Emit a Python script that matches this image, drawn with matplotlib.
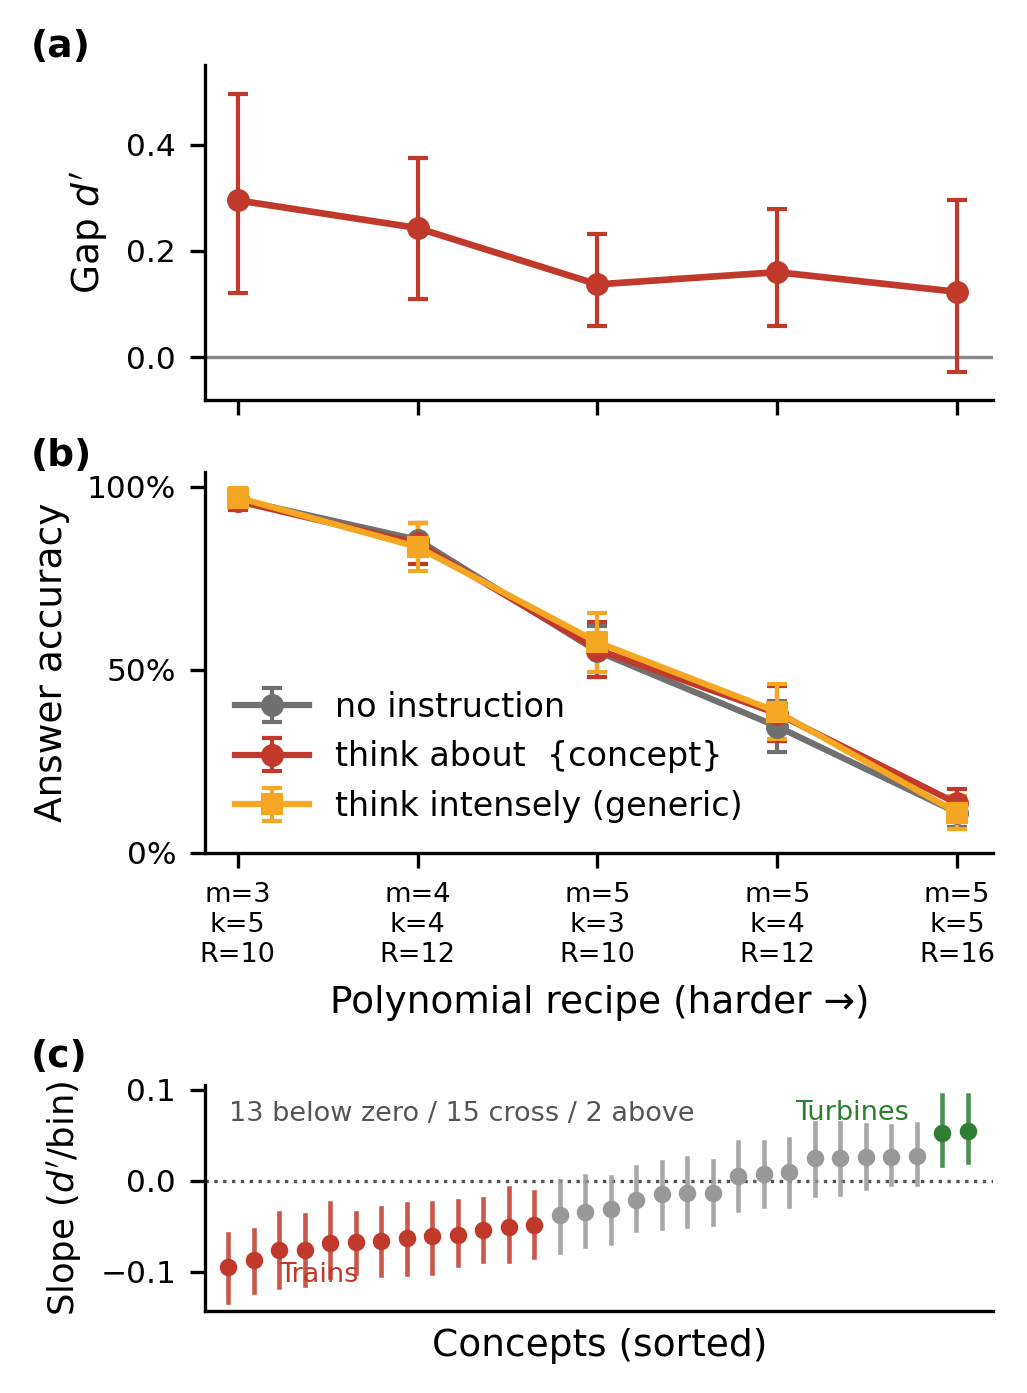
import numpy as np
import matplotlib
matplotlib.use("Agg")
import matplotlib.pyplot as plt
from matplotlib.ticker import PercentFormatter

recipes = ["m=3\nk=5\nR=10", "m=4\nk=4\nR=12", "m=5\nk=3\nR=10", "m=5\nk=4\nR=12", "m=5\nk=5\nR=16"]

gap_d = [0.295, 0.243, 0.137, 0.160, 0.123]
gap_lo = [0.120, 0.110, 0.058, 0.058, -0.028]
gap_hi = [0.495, 0.375, 0.232, 0.278, 0.295]

acc_none = [96.5, 85.5, 55.0, 34.5, 11.0]
acc_none_err = [2.5, 4.5, 7.0, 7.0, 4.0]
acc_concept = [96.0, 84.5, 55.5, 38.0, 13.5]
acc_concept_err = [2.5, 5.5, 7.5, 7.5, 4.0]
acc_generic = [97.0, 83.5, 57.5, 38.5, 11.0]
acc_generic_err = [2.5, 6.5, 8.0, 7.5, 4.5]

slopes = [-0.095, -0.087, -0.076, -0.076, -0.068, -0.067, -0.066, -0.063, -0.061, -0.059,
          -0.054, -0.051, -0.048, -0.038, -0.034, -0.031, -0.021, -0.015, -0.013, -0.013,
          0.005, 0.008, 0.010, 0.025, 0.025, 0.026, 0.026, 0.027, 0.053, 0.055]
slope_lo = [-0.133, -0.122, -0.117, -0.115, -0.106, -0.101, -0.103, -0.102, -0.101, -0.093,
            -0.088, -0.088, -0.084, -0.078, -0.072, -0.068, -0.054, -0.052, -0.050, -0.047,
            -0.032, -0.028, -0.028, -0.016, -0.014, -0.008, -0.004, -0.004, 0.017, 0.021]
slope_hi = [-0.058, -0.054, -0.035, -0.038, -0.024, -0.035, -0.030, -0.025, -0.024, -0.022,
            -0.020, -0.008, -0.012, 0.000, 0.005, 0.004, 0.015, 0.021, 0.025, 0.022,
            0.043, 0.043, 0.046, 0.064, 0.064, 0.061, 0.060, 0.062, 0.094, 0.094]

RED = "#c0392b"
GREY = "#707070"
ORANGE = "#f5a623"
GREEN = "#2e7d32"

plt.rcParams["font.family"] = ["DejaVu Sans"]
plt.rcParams["font.size"] = 7.5
plt.rcParams["xtick.labelsize"] = 7.5
plt.rcParams["ytick.labelsize"] = 7.5

fig = plt.figure(figsize=(1027 / 300, 1393 / 300), dpi=300)
ax_a = fig.add_axes([0.2, 0.713, 0.767, 0.2405])
ax_b = fig.add_axes([0.2, 0.3877, 0.767, 0.2735])
ax_c = fig.add_axes([0.2, 0.0589, 0.767, 0.162])

x = np.arange(len(recipes))

# (a) gap
err = [np.array(gap_d) - np.array(gap_lo), np.array(gap_hi) - np.array(gap_d)]
ax_a.axhline(0, color="#888888", lw=0.8)
ax_a.errorbar(x, gap_d, yerr=err, color=RED, marker="o", ms=4.5, lw=1.6,
              elinewidth=1.0, capsize=2.5)
ax_a.set_ylabel("Gap $d'$", fontsize=9)
ax_a.set_xticks(x)
ax_a.set_xticklabels([])
ax_a.set_ylim(-0.08, 0.55)
ax_a.set_yticks([0.0, 0.2, 0.4])
ax_a.set_xlim(-0.18, 4.2)

# (b) accuracy
kw = dict(ms=4.5, lw=1.5, elinewidth=1.0, capsize=2.5)
ax_b.errorbar(x, acc_none, yerr=acc_none_err, color=GREY, marker="o", label="no instruction", **kw)
ax_b.errorbar(x, acc_concept, yerr=acc_concept_err, color=RED, marker="o",
              label="think about  {concept}", **kw)
ax_b.errorbar(x, acc_generic, yerr=acc_generic_err, color=ORANGE, marker="s",
              label="think intensely (generic)", **kw)
ax_b.set_ylim(0, 104)
ax_b.set_yticks([0, 50, 100])
ax_b.yaxis.set_major_formatter(PercentFormatter(decimals=0))
ax_b.set_xlim(-0.18, 4.2)
ax_b.set_xticks(x)
ax_b.set_xticklabels(recipes, fontsize=6.5)
ax_b.set_ylabel("Answer accuracy", fontsize=9)
ax_b.set_xlabel("Polynomial recipe (harder \u2192)", fontsize=9)
ax_b.legend(loc="lower left", frameon=False, fontsize=8, handlelength=2.2)

# (c) slopes
ax_c.axhline(0, color="#555555", lw=0.8, ls=":")
for i, (s, lo, hi) in enumerate(zip(slopes, slope_lo, slope_hi)):
    if hi < 0:
        c = RED
    elif lo > 0:
        c = GREEN
    else:
        c = "#999999"
    ax_c.plot([i, i], [lo, hi], color=c, lw=1.1, alpha=0.85)
    ax_c.plot(i, s, "o", color=c, ms=3.2)
ax_c.set_xlim(-0.9, 30.0)
ax_c.set_ylim(-0.143, 0.105)
ax_c.set_yticks([-0.1, 0.0, 0.1])
ax_c.set_xticks([])
ax_c.set_ylabel("Slope ($d'$/bin)", fontsize=8.5)
ax_c.set_xlabel("Concepts (sorted)", fontsize=9)
ax_c.text(0.03, 0.93, "13 below zero / 15 cross / 2 above", transform=ax_c.transAxes,
          fontsize=6.5, color="#555555", va="top")
ax_c.text(2.0, -0.104, "Trains", color=RED, fontsize=6.5, va="center")
ax_c.text(26.7, 0.075, "Turbines", color=GREEN, fontsize=6.5, va="center", ha="right")

for ax in (ax_a, ax_b, ax_c):
    ax.spines["top"].set_visible(False)
    ax.spines["right"].set_visible(False)

fig.text(0.03, 0.966, "(a)", fontsize=9, fontweight="bold", va="center")
fig.text(0.03, 0.673, "(b)", fontsize=9, fontweight="bold", va="center")
fig.text(0.03, 0.241, "(c)", fontsize=9, fontweight="bold", va="center")

fig.savefig("out.png", dpi=300)
